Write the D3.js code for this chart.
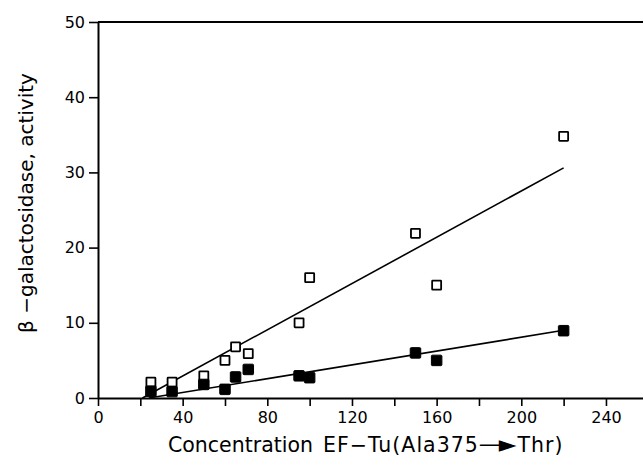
<!DOCTYPE html>
<html>
<head>
<meta charset="utf-8">
<script src="https://cdn.jsdelivr.net/npm/d3@7"></script>
<style>
    body { margin: 0; background: #fff; }
    svg { display: block; font-family: "DejaVu Sans", sans-serif; }
</style>
</head>
<body>
<div id="chart"></div>
<script>
// concentration of EF-Tu (x) shared by both series
const concentration = [25, 35, 50, 60, 65, 71, 95, 100, 150, 160, 220];
// open squares
const openActivity = [2.1, 2.1, 2.95, 5.0, 6.8, 5.9, 10.0, 16.0, 21.9, 15.0, 34.8];
// filled squares
const filledActivity = [0.9, 0.85, 1.8, 1.15, 2.8, 3.8, 2.95, 2.7, 6.0, 5.0, 8.95];
// fitted lines, [x, y] end points
const openFit = [[21, 0], [220, 30.6]];
const filledFit = [[24, 0], [220, 9.0]];
// ticks
const xTicks = [0, 20, 40, 60, 80, 100, 120, 140, 160, 180, 200, 220, 240];
const xLabels = [0, 40, 80, 120, 160, 200, 240];
const yTicks = [0, 10, 20, 30, 40, 50];

class ChartHelper {

    /**
     * Square marker
     * @param {Object} g
     * @param {Array} points
     * @param {Boolean} filled
     */
    static drawSquares(g, points, filled, x, y) {
        const s = filled ? 10.5 : 9;
        g.selectAll(null)
            .data(points)
            .enter()
            .append('rect')
            .attr('x', d => x(d[0]) - s / 2)
            .attr('y', d => y(d[1]) - s / 2)
            .attr('width', s)
            .attr('height', s)
            .attr('rx', filled ? 1 : 0.5)
            .attr('fill', filled ? '#000' : '#fff')
            .attr('stroke', '#000')
            .attr('stroke-width', filled ? 1 : 1.8);
    }

    /**
     * Fit line
     */
    static drawLine(g, pts, x, y) {
        const line = d3.line().x(d => x(d[0])).y(d => y(d[1]));
        g.append('path')
            .attr('d', line(pts))
            .attr('fill', 'none')
            .attr('stroke', '#000')
            .attr('stroke-width', 1.6);
    }
}

const width = 643, height = 458;
const svg = d3.select('#chart').append('svg')
    .attr('width', width)
    .attr('height', height);

const x = d3.scaleLinear().domain([0, 257.5]).range([98, 643]);
const y = d3.scaleLinear().domain([0, 50]).range([398, 22]);

// top frame line
svg.append('line')
    .attr('x1', x(0)).attr('x2', width)
    .attr('y1', y(50)).attr('y2', y(50))
    .attr('stroke', '#000').attr('stroke-width', 2);

const xAxis = svg.append('g')
    .attr('transform', `translate(0, ${y(0)})`)
    .call(d3.axisBottom(x)
        .tickValues(xTicks)
        .tickSize(8)
        .tickSizeOuter(0)
        .tickPadding(6)
        .tickFormat(d => xLabels.includes(d) ? d : ''));

const yAxis = svg.append('g')
    .attr('transform', `translate(${x(0)}, 0)`)
    .call(d3.axisLeft(y)
        .tickValues(yTicks)
        .tickSize(9)
        .tickSizeOuter(0)
        .tickPadding(4));

[xAxis, yAxis].forEach(a => {
    a.attr('font-family', null).attr('font-size', null);
    a.select('.domain').attr('stroke-width', 2);
    a.selectAll('.tick line').attr('stroke-width', 1.6);
    a.selectAll('.tick text').attr('font-size', 16).attr('fill', '#000');
});

const plot = svg.append('g');
ChartHelper.drawLine(plot, openFit, x, y);
ChartHelper.drawLine(plot, filledFit, x, y);
ChartHelper.drawSquares(plot, d3.zip(concentration, openActivity), false, x, y);
ChartHelper.drawSquares(plot, d3.zip(concentration, filledActivity), true, x, y);

// axis titles
const xTitle = svg.append('text')
    .attr('x', 168)
    .attr('y', 452)
    .attr('font-size', 20.5)
    .attr('fill', '#000');
xTitle.append('tspan').text('Concentration');
xTitle.append('tspan').attr('dx', 10).attr('letter-spacing', 1).text('EF\u2212Tu(Ala375');
xTitle.append('tspan').attr('font-size', 23).attr('letter-spacing', -3).text('\u2014\u25BA');
xTitle.append('tspan').attr('dx', 4).attr('letter-spacing', 1).text('Thr)');

svg.append('text')
    .attr('transform', 'translate(33, 203) rotate(-90)')
    .attr('text-anchor', 'middle')
    .attr('font-size', 20)
    .attr('fill', '#000')
    .text('\u03B2 \u2212galactosidase, activity');
</script>
</body>
</html>
